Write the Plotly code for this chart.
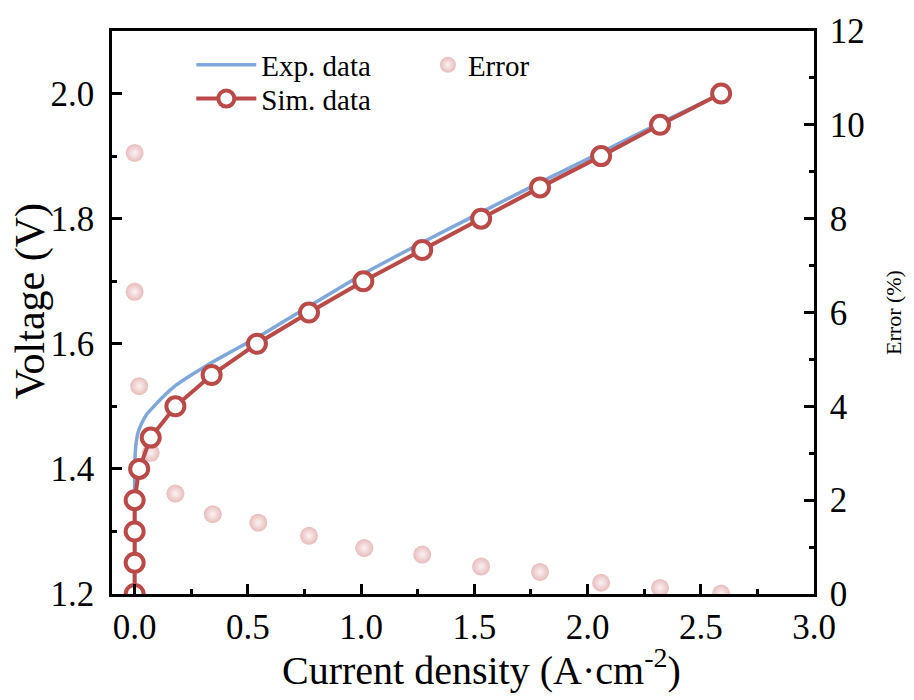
import plotly.graph_objects as go

# Experimental polarization curve (current density A/cm2, voltage V)
exp_j = [0.0, 0.0, 0.002, 0.006, 0.015, 0.03, 0.055, 0.09, 0.13, 0.18, 0.25, 0.34, 0.45, 0.56, 0.77, 1.01, 1.27, 1.53, 1.79, 2.06, 2.32, 2.59]
exp_v = [1.20, 1.38, 1.42, 1.44, 1.458, 1.472, 1.488, 1.502, 1.517, 1.533, 1.550, 1.570, 1.592, 1.614, 1.660, 1.712, 1.762, 1.810, 1.858, 1.906, 1.953, 2.000]

# Simulated points
sim_j = [0.0, 0.0, 0.0, 0.0, 0.02, 0.071, 0.18, 0.34, 0.54, 0.77, 1.01, 1.27, 1.53, 1.79, 2.06, 2.32, 2.59]
sim_v = [1.20, 1.25, 1.30, 1.35, 1.40, 1.45, 1.50, 1.55, 1.60, 1.65, 1.70, 1.75, 1.80, 1.85, 1.90, 1.95, 2.00]

# Error (%)
err_j = [0.0, 0.0, 0.02, 0.071, 0.18, 0.345, 0.546, 0.77, 1.014, 1.27, 1.53, 1.79, 2.06, 2.32, 2.59]
err_v = [9.40, 6.44, 4.43, 3.01, 2.14, 1.70, 1.52, 1.24, 0.98, 0.84, 0.585, 0.47, 0.24, 0.13, 0.01]

FONT = "Liberation Serif"
BLUE = "#7fa7da"
RED = "#b94a48"

fig = go.Figure()

fig.add_trace(go.Scatter(
    x=err_j, y=err_v, mode="markers", name="Error", yaxis="y", legend="legend2",
    marker=dict(size=18, color="#e8bcbc", line=dict(width=0),
                gradient=dict(type="radial", color="#fcf2f2")),
))
fig.add_trace(go.Scatter(
    x=exp_j, y=exp_v, mode="lines", name="Exp. data", yaxis="y2", legend="legend3",
    line=dict(color=BLUE, width=3.5, shape="spline", smoothing=0.3),
))
fig.add_trace(go.Scatter(
    x=sim_j, y=sim_v, mode="lines+markers", name="Sim. data", yaxis="y2", legend="legend4",
    line=dict(color=RED, width=4),
    marker=dict(size=18, color="white", line=dict(color=RED, width=4)),
))

axis_common = dict(
    showline=True, linecolor="black", linewidth=2.5,
    ticks="inside", ticklen=10, tickwidth=2.5, tickcolor="black",
    showgrid=False, zeroline=False,
    tickfont=dict(family=FONT, size=35, color="black"),
)

leg_common = dict(xanchor="left", yanchor="top", bgcolor="rgba(0,0,0,0)",
                  font=dict(family=FONT, size=29))

fig.update_layout(
    width=914, height=700,
    margin=dict(l=112, r=92, t=24, b=106),
    plot_bgcolor="white", paper_bgcolor="white",
    font=dict(family=FONT, color="black"),
    xaxis=dict(
        **axis_common, range=[-0.1, 3.0], dtick=0.5, tickformat=".1f",
        mirror=True, ticklabelstandoff=0,
        minor=dict(ticks="inside", ticklen=5, tickwidth=2.5, tickcolor="black", dtick=0.25),
    ),
    yaxis=dict(
        **axis_common, side="right", range=[0, 12], dtick=2,
        ticklabelstandoff=6,
        minor=dict(ticks="inside", ticklen=5, tickwidth=2.5, tickcolor="black", dtick=1),
        title=dict(text="Error (%)", font=dict(family=FONT, size=22), standoff=22),
    ),
    yaxis2=dict(
        **axis_common, side="left", overlaying="y", range=[1.2, 2.1], dtick=0.2, tickformat=".1f",
        ticklabelstandoff=8,
        minor=dict(ticks="inside", ticklen=5, tickwidth=2.5, tickcolor="black", dtick=0.1),
    ),
    legend=dict(visible=False),
    legend3=dict(x=0.113, y=0.985, itemwidth=60, **leg_common),
    legend4=dict(x=0.113, y=0.925, itemwidth=60, **leg_common),
    legend2=dict(x=0.45, y=0.985, **leg_common),
    annotations=[
        dict(text="Current density (A·cm<sup>-2</sup>)", xref="paper", yref="paper",
             x=0.527, y=-0.13, xanchor="center", yanchor="middle", showarrow=False,
             font=dict(family=FONT, size=40, color="black")),
        dict(text="Voltage (V)", xref="paper", yref="paper", textangle=-90,
             x=-0.116, y=0.519, xanchor="center", yanchor="middle", showarrow=False,
             font=dict(family=FONT, size=42, color="black")),
    ],
)

fig.write_html("out.html")
